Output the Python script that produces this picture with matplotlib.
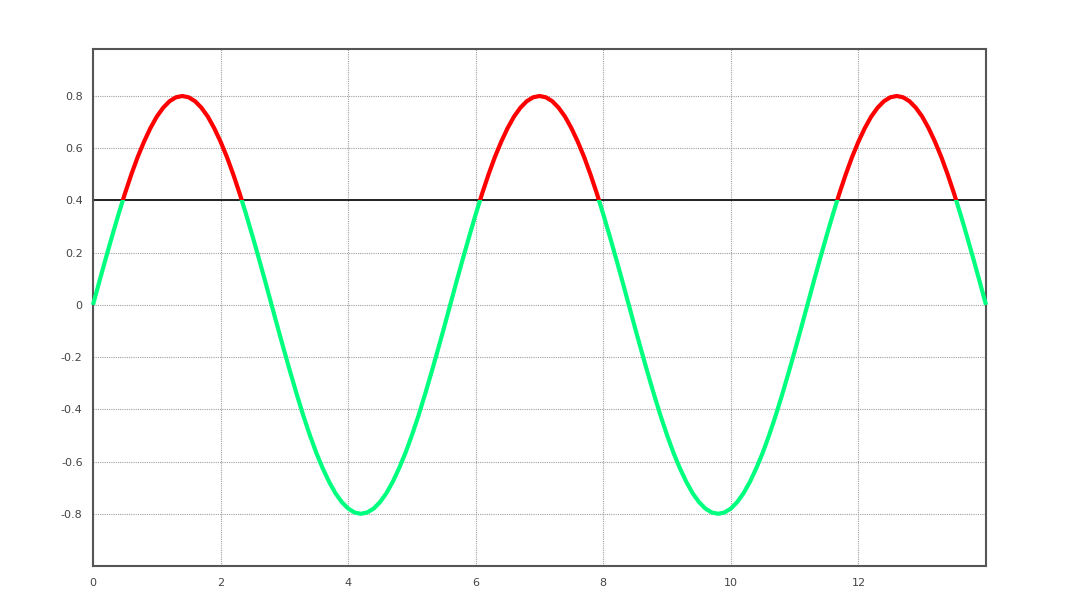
import numpy as np
import matplotlib
matplotlib.use("Agg")
import matplotlib.pyplot as plt
from matplotlib.patches import Rectangle

x_values = np.round(np.arange(0, 141) * 0.1, 1)
y_values = [
    0, .090, .178, .264, .347, .426, .499, .566, .625, .677, .721, .755, .780, .795, .800,
    .795, .780, .755, .721, .677, .625, .566, .499, .426, .347, .264, .178, .090,
    0, -.090, -.178, -.264, -.347, -.426, -.499, -.566, -.625, -.677, -.721, -.755, -.780, -.795, -.800,
    -.795, -.780, -.755, -.721, -.677, -.625, -.566, -.499, -.426, -.347, -.264, -.178, -.090,
    0, .090, .178, .264, .347, .426, .499, .566, .625, .677, .721, .755, .780, .795, .800,
    .795, .780, .755, .721, .677, .625, .566, .499, .426, .347, .264, .178, .090,
    0, -.090, -.178, -.264, -.347, -.426, -.499, -.566, -.625, -.677, -.721, -.755, -.780, -.795, -.800,
    -.795, -.780, -.755, -.721, -.677, -.625, -.566, -.499, -.426, -.347, -.264, -.178, -.090,
    0, .090, .178, .264, .347, .426, .499, .566, .625, .677, .721, .755, .780, .795, .800,
    .795, .780, .755, .721, .677, .625, .566, .499, .426, .347, .264, .178, .090, 0,
]
threshold = 0.4
x_ticks = [0, 2, 4, 6, 8, 10, 12]
x_tick_labels = ["0", "2", "4", "6", "8", "10", "12"]
y_ticks = [-0.8, -0.6, -0.4, -0.2, 0, 0.2, 0.4, 0.6, 0.8]
y_tick_labels = ["-0.8", "-0.6", "-0.4", "-0.2", "0", "0.2", "0.4", "0.6", "0.8"]

fig = plt.figure(figsize=(10.8, 6.08), dpi=100)
ax = fig.add_axes([93/1080, 1-566/608, (986-93)/1080, (566-49)/608])
ax.set_xlim(0, 14)
ax.set_ylim(-1.0, 0.98)

ax.grid(True, linestyle=(0, (1, 1)), color="#a0a0a0", linewidth=0.8)
ax.set_axisbelow(True)
ax.axhline(threshold, color="#222222", linewidth=1.4, zorder=2)

above, = ax.plot(x_values, y_values, color="#ff0000", linewidth=3, solid_capstyle="butt", zorder=3)
below, = ax.plot(x_values, y_values, color="#00ff7f", linewidth=3, solid_capstyle="butt", zorder=3)
above.set_clip_path(Rectangle((-1, threshold), 16, 5, transform=ax.transData))
below.set_clip_path(Rectangle((-1, threshold - 5), 16, 5, transform=ax.transData))

ax.set_xticks(x_ticks)
ax.set_xticklabels(x_tick_labels)
ax.set_yticks(y_ticks)
ax.set_yticklabels(y_tick_labels)
ax.tick_params(axis="both", length=0, labelsize=8, labelcolor="#444444")
ax.tick_params(axis="x", pad=9)
ax.tick_params(axis="y", pad=7.5)

for side, sp in ax.spines.items():
    sp.set_color("#555555")
    sp.set_linewidth(1.5)

fig.savefig("out.png", dpi=100)
